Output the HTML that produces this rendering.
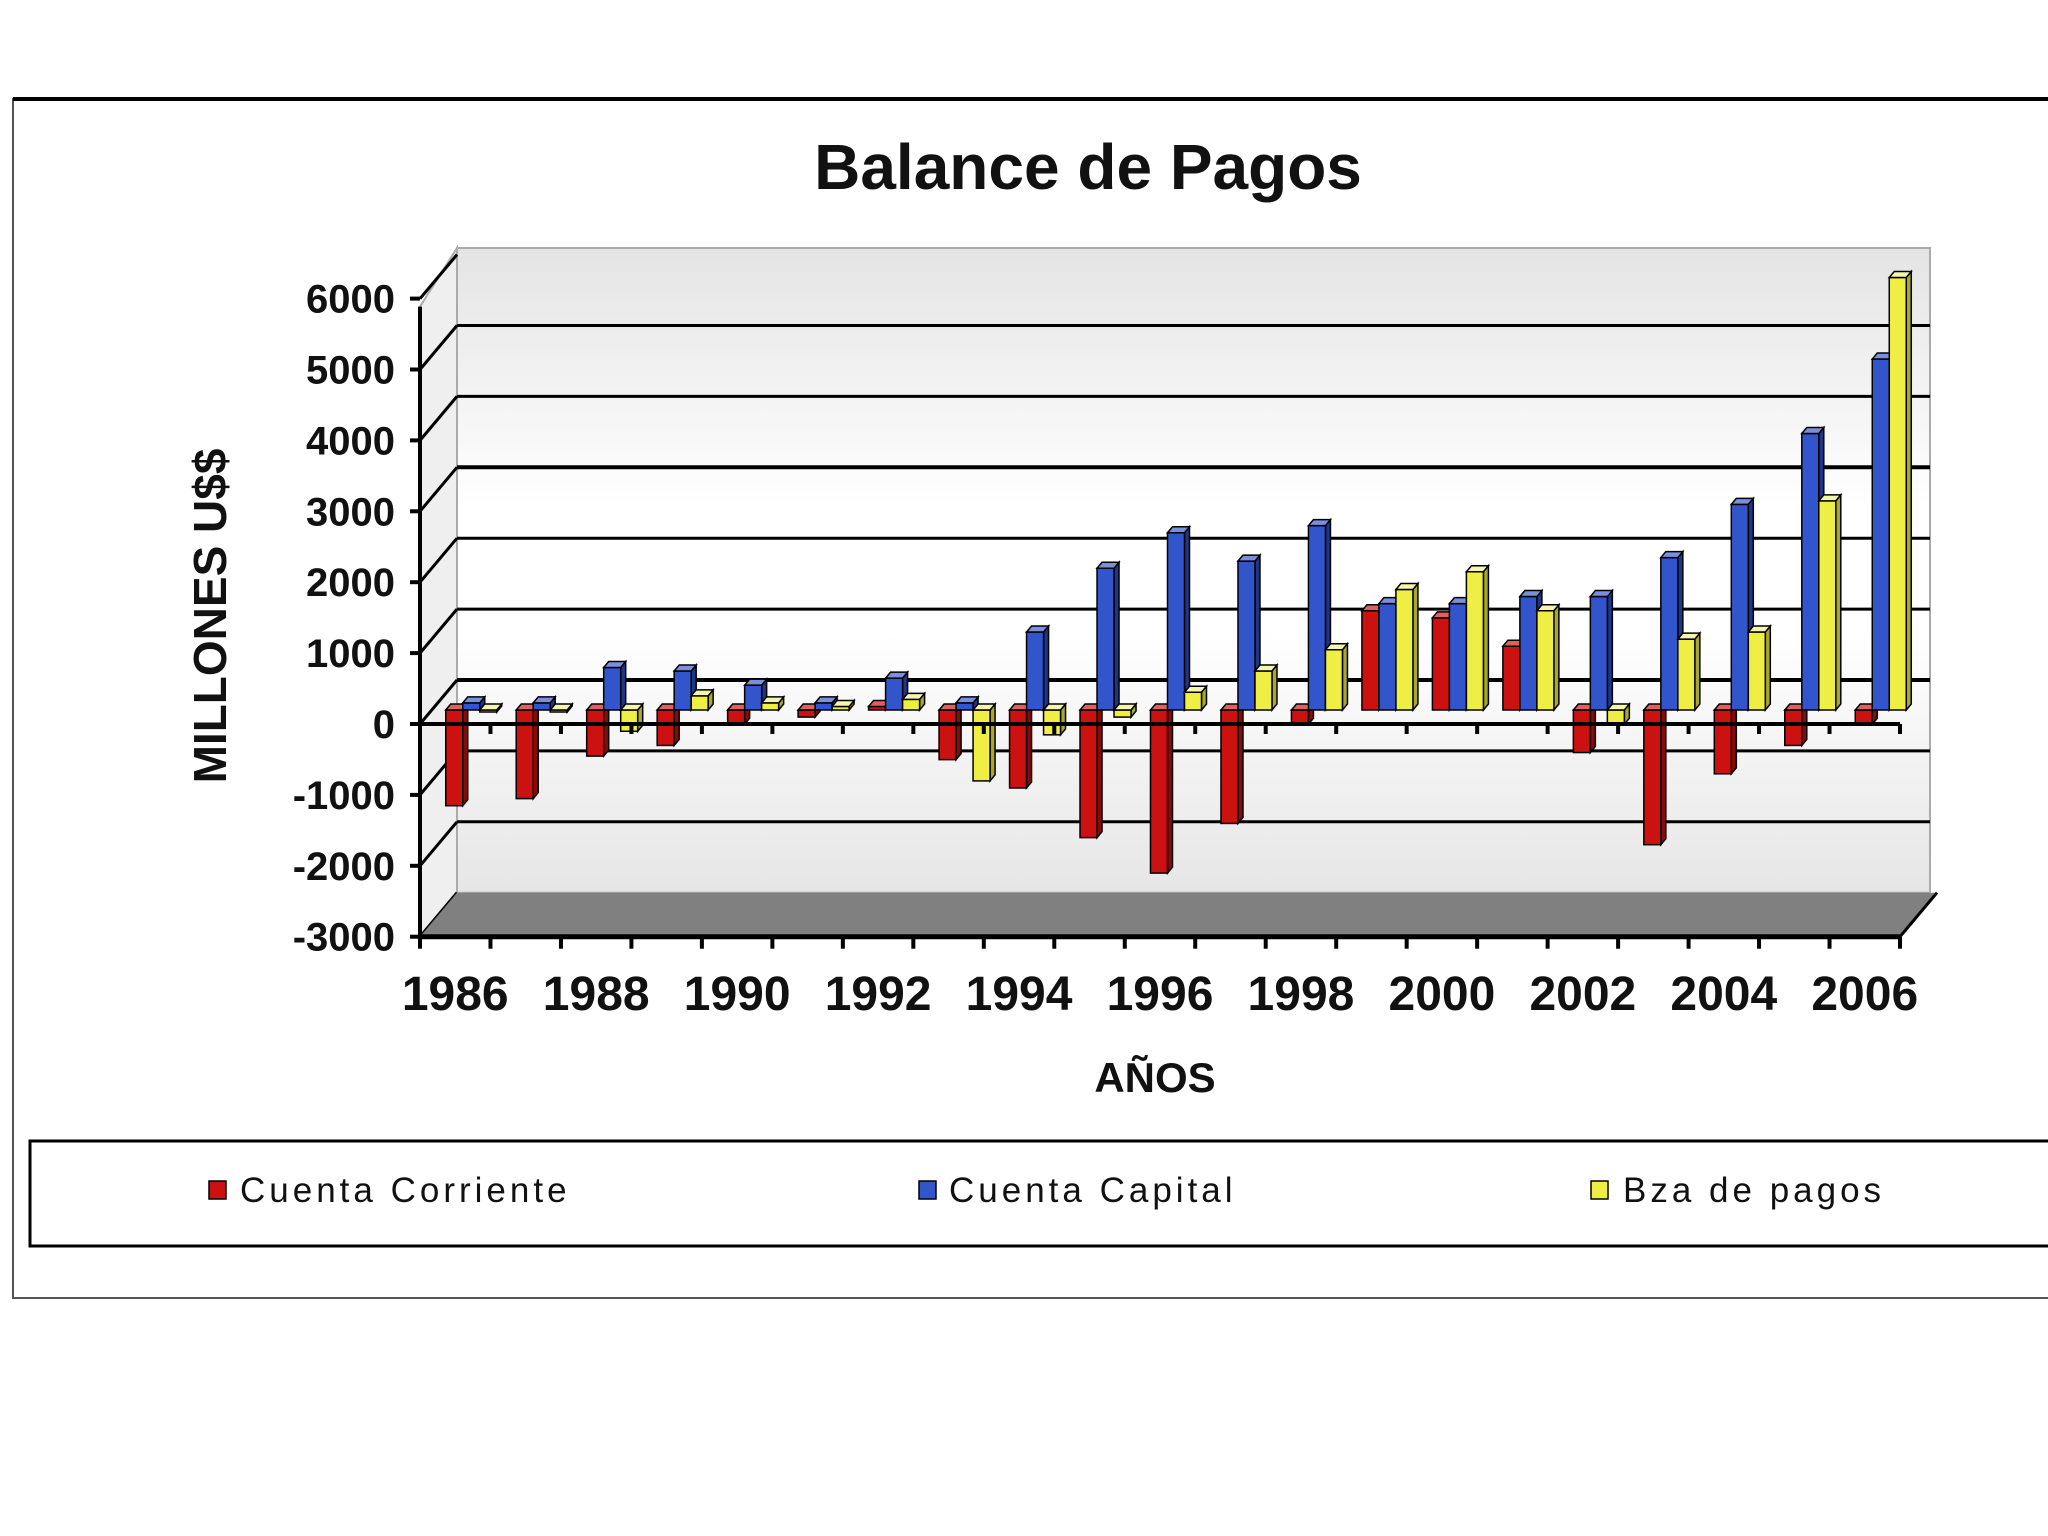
<!DOCTYPE html>
<html><head><meta charset="utf-8">
<style>
html,body{margin:0;padding:0;background:#fff;}
svg{display:block;font-family:"Liberation Sans",Arial,sans-serif;}
</style></head>
<body>
<svg id="chart" width="2048" height="1536" viewBox="0 0 2048 1536" xmlns="http://www.w3.org/2000/svg">
<defs>
<linearGradient id="wallg" x1="0" y1="0" x2="0" y2="1">
<stop offset="0" stop-color="#e4e4e4"/><stop offset="0.4" stop-color="#ffffff"/><stop offset="0.6" stop-color="#ffffff"/><stop offset="1" stop-color="#e6e6e6"/>
</linearGradient>
</defs>
<rect x="13" y="99" width="2060" height="1199" fill="#fff" stroke="#555" stroke-width="2"/>
<line x1="13" y1="99" x2="2048" y2="99" stroke="#000" stroke-width="4"/>
<text x="1088" y="189" font-size="64" font-weight="bold" text-anchor="middle" fill="#111">Balance de Pagos</text>
<g id="plot"></g>
<text transform="translate(226,616) rotate(-90)" font-size="46" font-weight="bold" text-anchor="middle" fill="#111">MILLONES U$$</text>
<text x="1155" y="1092" font-size="42" font-weight="bold" text-anchor="middle" fill="#111">AÑOS</text>
<g>
<rect x="30" y="1141" width="2040" height="105" fill="#fff" stroke="#000" stroke-width="3"/>
<g><rect x="209" y="1181" width="17" height="18" fill="#cc1111" stroke="#000" stroke-width="1.5"/><text x="240" y="1202" font-size="35" letter-spacing="4" fill="#111">Cuenta Corriente</text></g>
<g><rect x="919" y="1181" width="17" height="18" fill="#3355cc" stroke="#000" stroke-width="1.5"/><text x="949" y="1202" font-size="35" letter-spacing="4" fill="#111">Cuenta Capital</text></g>
<g><rect x="1591" y="1181" width="17" height="18" fill="#eeee44" stroke="#000" stroke-width="1.5"/><text x="1623" y="1202" font-size="35" letter-spacing="4" fill="#111">Bza de pagos</text></g>
</g>
</svg>
<script>
const years = [1986,1987,1988,1989,1990,1991,1992,1993,1994,1995,1996,1997,1998,1999,2000,2001,2002,2003,2004,2005,2006];
const cuentaCorriente = [-1350,-1250,-650,-500,-200,-100,50,-700,-1100,-1800,-2300,-1600,-200,1400,1300,900,-600,-1900,-900,-500,-200];
const cuentaCapital = [100,100,600,550,350,100,450,100,1100,2000,2500,2100,2600,1500,1500,1600,1600,2150,2900,3900,4950];
const bzaPagos = [0,0,-300,200,100,50,150,-1000,-350,-100,250,550,850,1700,1950,1400,-200,1000,1100,2950,6100];
const yTicks = [6000,5000,4000,3000,2000,1000,0,-1000,-2000,-3000];
const xLabels = ["1986","1988","1990","1992","1994","1996","1998","2000","2002","2004","2006"];

const NS="http://www.w3.org/2000/svg";
const g=document.getElementById('plot');
const X0=420, X1=1900, DX=37, DY=-44;
const slot=(X1-X0)/years.length;
function yF(v){return 724 - v*0.0709;}
function xSlot(i){return X0 + i*slot;}
function mk(tag,attrs,parent){const e=document.createElementNS(NS,tag);for(const k in attrs)e.setAttribute(k,attrs[k]);(parent||g).appendChild(e);return e;}
function pts(a){return a.map(p=>p.join(',')).join(' ');}

let wall=mk('polygon',{points:pts([[X0+DX,248],[1930,248],[1930,yF(-3000)+DY],[X0+DX,yF(-3000)+DY]]),fill:'url(#wallg)',stroke:'#aaa','stroke-width':2});


let side=mk('polygon',{points:pts([[X0,yF(6000)+8],[X0+DX,248],[X0+DX,yF(-3000)+DY],[X0,yF(-3000)]]),fill:'#efefef',stroke:'#aaa','stroke-width':2});


yTicks.forEach(v=>{
  if(v<5001 && v>-3000){
    const w=(v===0||v===3000)?4:3;
    let gl=mk('line',{x1:X0+DX,y1:yF(v)+DY,x2:1930,y2:yF(v)+DY,stroke:'#000','stroke-width':w});
    
    
  }
  mk('line',{x1:X0,y1:yF(v),x2:X0+DX,y2:yF(v)+DY,stroke:'#000','stroke-width':3});
  mk('line',{x1:X0-10,y1:yF(v),x2:X0,y2:yF(v),stroke:'#000','stroke-width':4});
  let t=mk('text',{x:X0-25,y:yF(v)+14,'font-size':40,'font-weight':'bold','text-anchor':'end',fill:'#111'});
  t.textContent=String(v);
  
  
});
let fl=mk('polygon',{points:pts([[X0,yF(-3000)],[X0+DX,yF(-3000)+DY],[1937,yF(-3000)+DY],[X1,yF(-3000)]]),fill:'#808080'});


mk('line',{x1:X0,y1:yF(6000)+8,x2:X0,y2:yF(-3000)+4,stroke:'#000','stroke-width':4});
mk('line',{x1:X0,y1:yF(-3000),x2:X1,y2:yF(-3000),stroke:'#000','stroke-width':5});
mk('line',{x1:X1,y1:yF(-3000),x2:1937,y2:yF(-3000)+DY,stroke:'#000','stroke-width':3});

const series=[{d:cuentaCorriente,f:'#cc1111',s:'#8a0a0a',t:'#e06060',n:'cuenta-corriente'},
              {d:cuentaCapital,f:'#3355cc',s:'#1f3588',t:'#7a90dd',n:'cuenta-capital'},
              {d:bzaPagos,f:'#eeee44',s:'#a8a830',t:'#f5f5b0',n:'bza-de-pagos'}];
const BW=17, bdx=5, bdy=-6, BX=16, B0=yF(0)-14;
function by(v){return B0 - v*0.0709;}
years.forEach((yr,i)=>{
  const cx=xSlot(i)+(slot-3*BW)/2+BX;
  series.forEach((s,k)=>{
    const v=s.d[i]; const x=cx+k*BW;
    let top=Math.min(by(v),B0), bot=Math.max(by(v),B0);
    if(bot-top<2){bot=top+2;}
    const grp=mk('g',{});
    
    
    mk('polygon',{points:pts([[x+BW,top],[x+BW+bdx,top+bdy],[x+BW+bdx,bot+bdy],[x+BW,bot]]),fill:s.s,stroke:'#000','stroke-width':1.5},grp);
    mk('rect',{x:x,y:top,width:BW,height:bot-top,fill:s.f,stroke:'#000','stroke-width':1.5},grp);
    mk('polygon',{points:pts([[x,top],[x+bdx,top+bdy],[x+BW+bdx,top+bdy],[x+BW,top]]),fill:s.t,stroke:'#000','stroke-width':1.5},grp);
  });
});
mk('line',{x1:X0,y1:yF(0),x2:X1,y2:yF(0),stroke:'#000','stroke-width':4});
years.forEach((yr,i)=>{
  mk('line',{x1:xSlot(i+1),y1:yF(0),x2:xSlot(i+1),y2:yF(0)+10,stroke:'#000','stroke-width':4});
  mk('line',{x1:xSlot(i+1),y1:yF(-3000),x2:xSlot(i+1),y2:yF(-3000)+12,stroke:'#000','stroke-width':4});
});
mk('line',{x1:X0,y1:yF(-3000),x2:X0,y2:yF(-3000)+12,stroke:'#000','stroke-width':4});
xLabels.forEach(lbl=>{
  const i=years.indexOf(+lbl);
  let t=mk('text',{x:xSlot(i)+slot/2,y:1010,'font-size':48,'font-weight':'bold','text-anchor':'middle',fill:'#111'});
  t.textContent=lbl;
  
  
});
</script>
</body></html>
